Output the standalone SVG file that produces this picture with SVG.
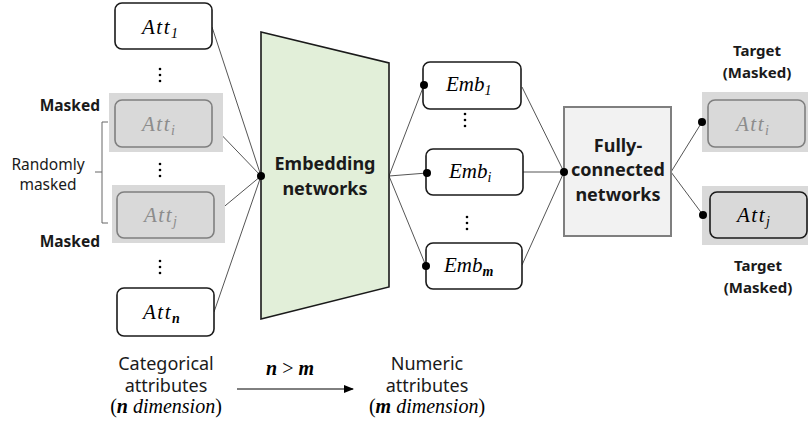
<svg xmlns="http://www.w3.org/2000/svg" width="808" height="425" viewBox="0 0 808 425">
<defs>
<style>
.box{fill:#ffffff;stroke:#1a1a1a;stroke-width:1.6}
.mbox{fill:#d9d9d9;stroke:#7f7f7f;stroke-width:1.6}
.mbg{fill:#d9d9d9;stroke:none}
.math{font-family:"Liberation Serif","DejaVu Serif",serif;font-style:italic;font-size:21px;fill:#000}
.att{letter-spacing:1.5px}
.sub{font-size:14px;letter-spacing:0}
.gray{fill:#8c8c8c}
.lbl{font-family:"Noto Sans","Open Sans",sans-serif;font-size:15.5px;fill:#1a1a1a}
.tl{font-family:"Noto Sans","Open Sans",sans-serif;font-size:15px;font-weight:bold;fill:#1a1a1a}
.bold{font-weight:bold}
.big{font-family:"Noto Sans","Open Sans",sans-serif;font-size:18px;font-weight:bold;fill:#1a1a1a}
.cap{font-family:"Noto Sans","Open Sans",sans-serif;font-size:18px;fill:#1a1a1a}
.mt{font-family:"Liberation Serif","DejaVu Serif",serif;font-size:20px;fill:#000}
.con{stroke:#555;stroke-width:1;fill:none}
.dot{fill:#000}
.vd{fill:#000}
</style>
<marker id="arr" markerWidth="10" markerHeight="8" refX="9" refY="4" orient="auto" markerUnits="userSpaceOnUse">
<path d="M0,0 L10,4 L0,8 Z" fill="#000"/>
</marker>
</defs>

<g id="connectors">
<line class="con" x1="212" y1="27" x2="261" y2="176"/>
<line class="con" x1="212" y1="125" x2="261" y2="176"/>
<line class="con" x1="214" y1="215" x2="261" y2="176"/>
<line class="con" x1="214" y1="312" x2="261" y2="176"/>
<line class="con" x1="389" y1="176" x2="424" y2="85"/>
<line class="con" x1="389" y1="176" x2="427" y2="173"/>
<line class="con" x1="389" y1="176" x2="426" y2="266"/>
<line class="con" x1="522" y1="87" x2="564" y2="172"/>
<line class="con" x1="523" y1="172" x2="564" y2="172"/>
<line class="con" x1="522" y1="265" x2="564" y2="172"/>
<line class="con" x1="671" y1="172" x2="702" y2="122"/>
<line class="con" x1="671" y1="172" x2="703" y2="215"/>
<line stroke="#000" stroke-width="1" x1="237" y1="389" x2="353" y2="389" marker-end="url(#arr)"/>
<path d="M108,122 H102 V223 H108 M102,172 H95" fill="none" stroke="#666" stroke-width="1"/>
</g>

<g id="att1">
<rect class="box" x="115" y="3" width="97" height="46" rx="7"/>
<text class="math att" x="142" y="34">Att<tspan class="sub" dy="4">1</tspan></text>
</g>
<g id="dots1"><circle class="vd" cx="160" cy="69" r="1.3"/><circle class="vd" cx="160" cy="75" r="1.3"/><circle class="vd" cx="160" cy="81" r="1.3"/></g>

<g id="atti">
<rect class="mbg" x="109" y="93" width="114" height="59"/>
<rect class="mbox" x="115" y="100" width="97" height="47" rx="7"/>
<text class="math att gray" x="142" y="131">Att<tspan class="sub" dy="4">i</tspan></text>
</g>
<text class="lbl bold" x="100" y="111" text-anchor="end">Masked</text>
<g id="dots2"><circle class="vd" cx="160" cy="164" r="1.3"/><circle class="vd" cx="160" cy="170" r="1.3"/><circle class="vd" cx="160" cy="176" r="1.3"/></g>
<text class="lbl" x="48" y="170" text-anchor="middle">Randomly</text>
<text class="lbl" x="48" y="190" text-anchor="middle">masked</text>

<g id="attj">
<rect class="mbg" x="112" y="185" width="113" height="58"/>
<rect class="mbox" x="117" y="192" width="97" height="46" rx="7"/>
<text class="math att gray" x="144" y="222">Att<tspan class="sub" dy="4">j</tspan></text>
</g>
<text class="lbl bold" x="100" y="247" text-anchor="end">Masked</text>
<g id="dots3"><circle class="vd" cx="160" cy="261" r="1.3"/><circle class="vd" cx="160" cy="267" r="1.3"/><circle class="vd" cx="160" cy="273" r="1.3"/></g>

<g id="attn">
<rect class="box" x="117" y="288" width="97" height="48" rx="7"/>
<text class="math att" x="143" y="319">Att<tspan class="sub bold" dy="4">n</tspan></text>
</g>

<g id="embedding">
<polygon points="261,32 389,63 389,287 261,319" fill="#e2efd9" stroke="#1a1a1a" stroke-width="1.6"/>
<text class="big" x="325" y="170" text-anchor="middle">Embedding</text>
<text class="big" x="325" y="195" text-anchor="middle">networks</text>
<circle class="dot" cx="261" cy="176" r="4"/>
</g>

<g id="emb1">
<rect class="box" x="423" y="62" width="98" height="47" rx="7"/>
<text class="math" x="446" y="91">Emb<tspan class="sub" dy="4">1</tspan></text>
<circle class="dot" cx="424" cy="85" r="4"/>
</g>
<g id="dots4"><circle class="vd" cx="465" cy="114" r="1.3"/><circle class="vd" cx="465" cy="120" r="1.3"/><circle class="vd" cx="465" cy="126" r="1.3"/></g>
<g id="embi">
<rect class="box" x="426" y="149" width="97" height="46" rx="7"/>
<text class="math" x="449" y="178">Emb<tspan class="sub" dy="4">i</tspan></text>
<circle class="dot" cx="427" cy="173" r="4"/>
</g>
<g id="dots5"><circle class="vd" cx="467" cy="217" r="1.3"/><circle class="vd" cx="467" cy="223" r="1.3"/><circle class="vd" cx="467" cy="229" r="1.3"/></g>
<g id="embm">
<rect class="box" x="426" y="243" width="96" height="46" rx="7"/>
<text class="math" x="444" y="272">Emb<tspan class="sub bold" dy="4">m</tspan></text>
<circle class="dot" cx="426" cy="266" r="4"/>
</g>

<g id="fc">
<rect x="564" y="107" width="107" height="129" fill="#f2f2f2" stroke="#7f7f7f" stroke-width="2"/>
<text class="big" x="618" y="152" text-anchor="middle">Fully-</text>
<text class="big" x="618" y="176" text-anchor="middle">connected</text>
<text class="big" x="618" y="201" text-anchor="middle">networks</text>
<circle class="dot" cx="564" cy="172" r="4"/>
</g>

<g id="target-i">
<text class="tl" x="757" y="56" text-anchor="middle">Target</text>
<text class="tl" x="757" y="78" text-anchor="middle">(Masked)</text>
<rect class="mbg" x="702" y="92" width="106" height="60"/>
<rect class="mbox" x="708" y="100" width="97" height="47" rx="7"/>
<text class="math att gray" x="736" y="131">Att<tspan class="sub" dy="4">i</tspan></text>
<circle class="dot" cx="702" cy="122" r="4"/>
</g>

<g id="target-j">
<rect class="mbg" x="702" y="186" width="106" height="59"/>
<rect x="710" y="192" width="97" height="46" rx="7" fill="#d9d9d9" stroke="#1a1a1a" stroke-width="1.6"/>
<text class="math att" x="737" y="222">Att<tspan class="sub" dy="4">j</tspan></text>
<circle class="dot" cx="703" cy="215" r="4"/>
<text class="tl" x="758" y="271" text-anchor="middle">Target</text>
<text class="tl" x="758" y="293" text-anchor="middle">(Masked)</text>
</g>

<g id="caption-cat">
<text class="cap" x="166" y="370" text-anchor="middle">Categorical</text>
<text class="cap" x="166" y="392" text-anchor="middle">attributes</text>
<text class="mt" x="166" y="413" text-anchor="middle">(<tspan font-weight="bold" font-style="italic">n</tspan> <tspan font-style="italic">dimension</tspan>)</text>
</g>
<g id="caption-rel">
<text class="mt" x="290" y="375" text-anchor="middle" font-style="italic" font-weight="bold" font-size="21">n <tspan font-style="normal" font-weight="normal">&gt;</tspan> m</text>
</g>
<g id="caption-num">
<text class="cap" x="427" y="370" text-anchor="middle">Numeric</text>
<text class="cap" x="427" y="392" text-anchor="middle">attributes</text>
<text class="mt" x="427" y="413" text-anchor="middle">(<tspan font-weight="bold" font-style="italic">m</tspan> <tspan font-style="italic">dimension</tspan>)</text>
</g>
</svg>
